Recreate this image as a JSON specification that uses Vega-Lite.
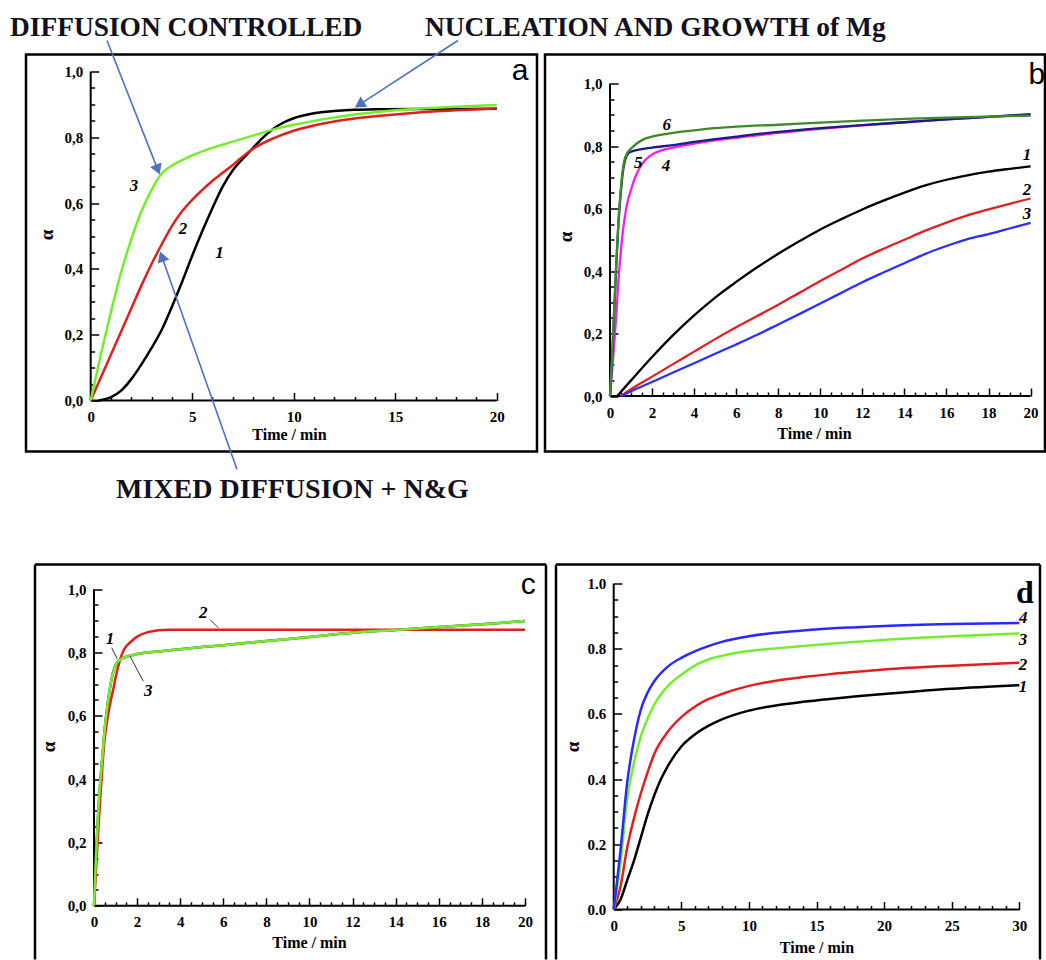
{
  "$schema": "https://vega.github.io/schema/vega-lite/v6.json",
  "autosize": {"type": "pad"},
  "padding": {"left": 8, "top": 11.5, "right": 0, "bottom": 0},
  "background": "white",
  "columns": 2,
  "bounds": "flush",
  "align": "none",
  "spacing": {"row": 113, "column": 8},
  "resolve": {"scale": {"color": "independent"}},
  "datasets": {
    "axes20": [{"t": 0, "a": 0, "t2": 20, "a2": 0}, {"t": 0, "a": 0, "t2": 0, "a2": 1}],
    "axes30": [{"t": 0, "a": 0, "t2": 30, "a2": 0}, {"t": 0, "a": 0, "t2": 0, "a2": 1}],
    "a_lines": [
      {"s": "1", "t": 0.4, "a": 0}, {"s": "1", "t": 1, "a": 0.01}, {"s": "1", "t": 1.5, "a": 0.03}, {"s": "1", "t": 2, "a": 0.065}, {"s": "1", "t": 2.5, "a": 0.11}, {"s": "1", "t": 3, "a": 0.16}, {"s": "1", "t": 3.5, "a": 0.215}, {"s": "1", "t": 4, "a": 0.285}, {"s": "1", "t": 4.5, "a": 0.36}, {"s": "1", "t": 5, "a": 0.44}, {"s": "1", "t": 5.5, "a": 0.515}, {"s": "1", "t": 6, "a": 0.585}, {"s": "1", "t": 6.5, "a": 0.65}, {"s": "1", "t": 7, "a": 0.7}, {"s": "1", "t": 7.5, "a": 0.735}, {"s": "1", "t": 8, "a": 0.768}, {"s": "1", "t": 8.5, "a": 0.8}, {"s": "1", "t": 9, "a": 0.826}, {"s": "1", "t": 9.5, "a": 0.845}, {"s": "1", "t": 10, "a": 0.858}, {"s": "1", "t": 11, "a": 0.873}, {"s": "1", "t": 12, "a": 0.88}, {"s": "1", "t": 13, "a": 0.884}, {"s": "1", "t": 14, "a": 0.885}, {"s": "1", "t": 16, "a": 0.886}, {"s": "1", "t": 18, "a": 0.886}, {"s": "1", "t": 20, "a": 0.887},
      {"s": "2", "t": 0, "a": 0}, {"s": "2", "t": 0.5, "a": 0.07}, {"s": "2", "t": 1, "a": 0.14}, {"s": "2", "t": 1.5, "a": 0.21}, {"s": "2", "t": 2, "a": 0.28}, {"s": "2", "t": 2.5, "a": 0.35}, {"s": "2", "t": 3, "a": 0.415}, {"s": "2", "t": 3.5, "a": 0.475}, {"s": "2", "t": 4, "a": 0.53}, {"s": "2", "t": 4.5, "a": 0.575}, {"s": "2", "t": 5, "a": 0.61}, {"s": "2", "t": 5.5, "a": 0.64}, {"s": "2", "t": 6, "a": 0.668}, {"s": "2", "t": 6.5, "a": 0.692}, {"s": "2", "t": 7, "a": 0.716}, {"s": "2", "t": 7.5, "a": 0.742}, {"s": "2", "t": 8, "a": 0.765}, {"s": "2", "t": 9, "a": 0.797}, {"s": "2", "t": 10, "a": 0.82}, {"s": "2", "t": 11, "a": 0.836}, {"s": "2", "t": 12, "a": 0.848}, {"s": "2", "t": 13, "a": 0.857}, {"s": "2", "t": 14, "a": 0.864}, {"s": "2", "t": 16, "a": 0.875}, {"s": "2", "t": 18, "a": 0.882}, {"s": "2", "t": 20, "a": 0.888},
      {"s": "3", "t": 0, "a": 0}, {"s": "3", "t": 0.5, "a": 0.14}, {"s": "3", "t": 1, "a": 0.27}, {"s": "3", "t": 1.5, "a": 0.39}, {"s": "3", "t": 2, "a": 0.49}, {"s": "3", "t": 2.5, "a": 0.575}, {"s": "3", "t": 3, "a": 0.64}, {"s": "3", "t": 3.5, "a": 0.69}, {"s": "3", "t": 4, "a": 0.714}, {"s": "3", "t": 4.5, "a": 0.73}, {"s": "3", "t": 5, "a": 0.745}, {"s": "3", "t": 6, "a": 0.768}, {"s": "3", "t": 7, "a": 0.787}, {"s": "3", "t": 8, "a": 0.805}, {"s": "3", "t": 9, "a": 0.824}, {"s": "3", "t": 10, "a": 0.838}, {"s": "3", "t": 11, "a": 0.85}, {"s": "3", "t": 12, "a": 0.86}, {"s": "3", "t": 13, "a": 0.869}, {"s": "3", "t": 14, "a": 0.876}, {"s": "3", "t": 15, "a": 0.882}, {"s": "3", "t": 16, "a": 0.887}, {"s": "3", "t": 18, "a": 0.893}, {"s": "3", "t": 20, "a": 0.898}
    ],
    "a_arrows": [
      {"t": 0.803, "a": 1.0942, "t2": 3.305, "a2": 0.7018},
      {"t": 18.089, "a": 1.0942, "t2": 13.236, "a2": 0.8994},
      {"t": 7.207, "a": -0.2097, "t2": 3.502, "a2": 0.4377}
    ],
    "a_nums": [{"t": 2.13, "a": 0.653, "label": "3"}, {"t": 4.547, "a": 0.52, "label": "2"}, {"t": 6.35, "a": 0.447, "label": "1"}],
    "a_letter": [{"t": 21.148, "a": 1.003, "label": "a"}],
    "headers": [
      {"t": -3.975, "a": 1.1763, "label": "DIFFUSION CONTROLLED"},
      {"t": 16.468, "a": 1.1763, "label": "NUCLEATION AND GROWTH of Mg"}
    ],
    "mixed": [
      {"t": 1.25, "a": -0.2295, "label": "MIXED DIFFUSION + N&G"}
    ],
    "b_lines": [
      {"s": "1", "t": 0.35, "a": 0}, {"s": "1", "t": 1, "a": 0.05}, {"s": "1", "t": 2, "a": 0.125}, {"s": "1", "t": 3, "a": 0.195}, {"s": "1", "t": 4, "a": 0.258}, {"s": "1", "t": 5, "a": 0.315}, {"s": "1", "t": 6, "a": 0.365}, {"s": "1", "t": 7, "a": 0.412}, {"s": "1", "t": 8, "a": 0.455}, {"s": "1", "t": 9, "a": 0.495}, {"s": "1", "t": 10, "a": 0.533}, {"s": "1", "t": 11, "a": 0.566}, {"s": "1", "t": 12, "a": 0.597}, {"s": "1", "t": 13, "a": 0.625}, {"s": "1", "t": 14, "a": 0.651}, {"s": "1", "t": 15, "a": 0.674}, {"s": "1", "t": 16, "a": 0.692}, {"s": "1", "t": 17, "a": 0.706}, {"s": "1", "t": 18, "a": 0.718}, {"s": "1", "t": 19, "a": 0.727}, {"s": "1", "t": 20, "a": 0.735},
      {"s": "2", "t": 0.5, "a": 0}, {"s": "2", "t": 1, "a": 0.022}, {"s": "2", "t": 2, "a": 0.062}, {"s": "2", "t": 3, "a": 0.102}, {"s": "2", "t": 4, "a": 0.142}, {"s": "2", "t": 5, "a": 0.182}, {"s": "2", "t": 6, "a": 0.22}, {"s": "2", "t": 7, "a": 0.256}, {"s": "2", "t": 8, "a": 0.292}, {"s": "2", "t": 9, "a": 0.33}, {"s": "2", "t": 10, "a": 0.368}, {"s": "2", "t": 11, "a": 0.404}, {"s": "2", "t": 12, "a": 0.44}, {"s": "2", "t": 13, "a": 0.471}, {"s": "2", "t": 14, "a": 0.5}, {"s": "2", "t": 15, "a": 0.529}, {"s": "2", "t": 16, "a": 0.555}, {"s": "2", "t": 17, "a": 0.578}, {"s": "2", "t": 18, "a": 0.597}, {"s": "2", "t": 19, "a": 0.615}, {"s": "2", "t": 20, "a": 0.632},
      {"s": "3", "t": 0.55, "a": 0}, {"s": "3", "t": 1, "a": 0.015}, {"s": "3", "t": 2, "a": 0.045}, {"s": "3", "t": 3, "a": 0.075}, {"s": "3", "t": 4, "a": 0.105}, {"s": "3", "t": 5, "a": 0.135}, {"s": "3", "t": 6, "a": 0.165}, {"s": "3", "t": 7, "a": 0.196}, {"s": "3", "t": 8, "a": 0.229}, {"s": "3", "t": 9, "a": 0.262}, {"s": "3", "t": 10, "a": 0.296}, {"s": "3", "t": 11, "a": 0.33}, {"s": "3", "t": 12, "a": 0.364}, {"s": "3", "t": 13, "a": 0.395}, {"s": "3", "t": 14, "a": 0.425}, {"s": "3", "t": 15, "a": 0.455}, {"s": "3", "t": 16, "a": 0.48}, {"s": "3", "t": 17, "a": 0.502}, {"s": "3", "t": 18, "a": 0.518}, {"s": "3", "t": 19, "a": 0.536}, {"s": "3", "t": 20, "a": 0.554},
      {"s": "4", "t": 0, "a": 0}, {"s": "4", "t": 0.1, "a": 0.08}, {"s": "4", "t": 0.2, "a": 0.17}, {"s": "4", "t": 0.3, "a": 0.26}, {"s": "4", "t": 0.4, "a": 0.37}, {"s": "4", "t": 0.5, "a": 0.45}, {"s": "4", "t": 0.6, "a": 0.52}, {"s": "4", "t": 0.7, "a": 0.57}, {"s": "4", "t": 0.8, "a": 0.61}, {"s": "4", "t": 1, "a": 0.66}, {"s": "4", "t": 1.2, "a": 0.7}, {"s": "4", "t": 1.5, "a": 0.74}, {"s": "4", "t": 2, "a": 0.773}, {"s": "4", "t": 2.5, "a": 0.787}, {"s": "4", "t": 3, "a": 0.795}, {"s": "4", "t": 4, "a": 0.808}, {"s": "4", "t": 5, "a": 0.818}, {"s": "4", "t": 6, "a": 0.826}, {"s": "4", "t": 8, "a": 0.842}, {"s": "4", "t": 10, "a": 0.855}, {"s": "4", "t": 12, "a": 0.866}, {"s": "4", "t": 14, "a": 0.876}, {"s": "4", "t": 16, "a": 0.885}, {"s": "4", "t": 18, "a": 0.893}, {"s": "4", "t": 20, "a": 0.9},
      {"s": "5", "t": 0, "a": 0}, {"s": "5", "t": 0.1, "a": 0.12}, {"s": "5", "t": 0.2, "a": 0.27}, {"s": "5", "t": 0.3, "a": 0.42}, {"s": "5", "t": 0.4, "a": 0.55}, {"s": "5", "t": 0.5, "a": 0.64}, {"s": "5", "t": 0.6, "a": 0.71}, {"s": "5", "t": 0.7, "a": 0.75}, {"s": "5", "t": 0.8, "a": 0.77}, {"s": "5", "t": 1, "a": 0.782}, {"s": "5", "t": 1.5, "a": 0.79}, {"s": "5", "t": 2, "a": 0.795}, {"s": "5", "t": 3, "a": 0.803}, {"s": "5", "t": 4, "a": 0.813}, {"s": "5", "t": 5, "a": 0.822}, {"s": "5", "t": 6, "a": 0.83}, {"s": "5", "t": 8, "a": 0.845}, {"s": "5", "t": 10, "a": 0.857}, {"s": "5", "t": 12, "a": 0.867}, {"s": "5", "t": 14, "a": 0.876}, {"s": "5", "t": 16, "a": 0.885}, {"s": "5", "t": 18, "a": 0.893}, {"s": "5", "t": 20, "a": 0.902},
      {"s": "6", "t": 0, "a": 0}, {"s": "6", "t": 0.1, "a": 0.13}, {"s": "6", "t": 0.2, "a": 0.28}, {"s": "6", "t": 0.3, "a": 0.43}, {"s": "6", "t": 0.4, "a": 0.56}, {"s": "6", "t": 0.5, "a": 0.65}, {"s": "6", "t": 0.6, "a": 0.72}, {"s": "6", "t": 0.7, "a": 0.758}, {"s": "6", "t": 0.8, "a": 0.775}, {"s": "6", "t": 1, "a": 0.792}, {"s": "6", "t": 1.5, "a": 0.818}, {"s": "6", "t": 2, "a": 0.83}, {"s": "6", "t": 3, "a": 0.842}, {"s": "6", "t": 4, "a": 0.85}, {"s": "6", "t": 5, "a": 0.857}, {"s": "6", "t": 6, "a": 0.862}, {"s": "6", "t": 8, "a": 0.868}, {"s": "6", "t": 10, "a": 0.875}, {"s": "6", "t": 12, "a": 0.881}, {"s": "6", "t": 14, "a": 0.887}, {"s": "6", "t": 16, "a": 0.891}, {"s": "6", "t": 18, "a": 0.894}, {"s": "6", "t": 20, "a": 0.897}
    ],
    "b_nums": [{"t": 2.696, "a": 0.8688, "label": "6"}, {"t": 1.346, "a": 0.7462, "label": "5"}, {"t": 2.663, "a": 0.7354, "label": "4"}, {"t": 19.829, "a": 0.7728, "label": "1"}, {"t": 19.829, "a": 0.6608, "label": "2"}, {"t": 19.829, "a": 0.584, "label": "3"}],
    "b_letter": [{"t": 20.3, "a": 1.027, "label": "b"}],
    "c_lines": [
      {"s": "1", "t": 0, "a": 0}, {"s": "1", "t": 0.1, "a": 0.17}, {"s": "1", "t": 0.2, "a": 0.3}, {"s": "1", "t": 0.3, "a": 0.4}, {"s": "1", "t": 0.4, "a": 0.48}, {"s": "1", "t": 0.5, "a": 0.56}, {"s": "1", "t": 0.6, "a": 0.62}, {"s": "1", "t": 0.7, "a": 0.67}, {"s": "1", "t": 0.8, "a": 0.71}, {"s": "1", "t": 0.9, "a": 0.74}, {"s": "1", "t": 1, "a": 0.76}, {"s": "1", "t": 1.2, "a": 0.776}, {"s": "1", "t": 1.4, "a": 0.784}, {"s": "1", "t": 1.7, "a": 0.79}, {"s": "1", "t": 2, "a": 0.795}, {"s": "1", "t": 3, "a": 0.803}, {"s": "1", "t": 4, "a": 0.81}, {"s": "1", "t": 5, "a": 0.817}, {"s": "1", "t": 6, "a": 0.823}, {"s": "1", "t": 8, "a": 0.836}, {"s": "1", "t": 10, "a": 0.849}, {"s": "1", "t": 12, "a": 0.862}, {"s": "1", "t": 14, "a": 0.871}, {"s": "1", "t": 16, "a": 0.88}, {"s": "1", "t": 18, "a": 0.889}, {"s": "1", "t": 20, "a": 0.899},
      {"s": "2", "t": 0, "a": 0}, {"s": "2", "t": 0.1, "a": 0.12}, {"s": "2", "t": 0.2, "a": 0.24}, {"s": "2", "t": 0.3, "a": 0.35}, {"s": "2", "t": 0.4, "a": 0.45}, {"s": "2", "t": 0.5, "a": 0.53}, {"s": "2", "t": 0.6, "a": 0.58}, {"s": "2", "t": 0.7, "a": 0.62}, {"s": "2", "t": 0.8, "a": 0.655}, {"s": "2", "t": 0.9, "a": 0.685}, {"s": "2", "t": 1, "a": 0.72}, {"s": "2", "t": 1.2, "a": 0.775}, {"s": "2", "t": 1.4, "a": 0.81}, {"s": "2", "t": 1.7, "a": 0.833}, {"s": "2", "t": 2, "a": 0.85}, {"s": "2", "t": 2.5, "a": 0.864}, {"s": "2", "t": 3, "a": 0.87}, {"s": "2", "t": 3.5, "a": 0.872}, {"s": "2", "t": 5, "a": 0.872}, {"s": "2", "t": 10, "a": 0.872}, {"s": "2", "t": 15, "a": 0.872}, {"s": "2", "t": 20, "a": 0.872},
      {"s": "3", "t": 0, "a": 0}, {"s": "3", "t": 0.1, "a": 0.17}, {"s": "3", "t": 0.2, "a": 0.3}, {"s": "3", "t": 0.3, "a": 0.4}, {"s": "3", "t": 0.4, "a": 0.48}, {"s": "3", "t": 0.5, "a": 0.56}, {"s": "3", "t": 0.6, "a": 0.62}, {"s": "3", "t": 0.7, "a": 0.67}, {"s": "3", "t": 0.8, "a": 0.71}, {"s": "3", "t": 0.9, "a": 0.74}, {"s": "3", "t": 1, "a": 0.76}, {"s": "3", "t": 1.2, "a": 0.776}, {"s": "3", "t": 1.4, "a": 0.784}, {"s": "3", "t": 1.7, "a": 0.79}, {"s": "3", "t": 2, "a": 0.795}, {"s": "3", "t": 3, "a": 0.803}, {"s": "3", "t": 4, "a": 0.81}, {"s": "3", "t": 5, "a": 0.817}, {"s": "3", "t": 6, "a": 0.823}, {"s": "3", "t": 8, "a": 0.836}, {"s": "3", "t": 10, "a": 0.849}, {"s": "3", "t": 12, "a": 0.862}, {"s": "3", "t": 14, "a": 0.871}, {"s": "3", "t": 16, "a": 0.88}, {"s": "3", "t": 18, "a": 0.889}, {"s": "3", "t": 20, "a": 0.899}
    ],
    "c_leaders": [
      {"t": 0.821, "a": 0.8147, "t2": 1.081, "a2": 0.7799},
      {"t": 2.288, "a": 0.7092, "t2": 1.671, "a2": 0.7881},
      {"t": 5.383, "a": 0.904, "t2": 5.768, "a2": 0.8778}
    ],
    "c_frame": [
      {"t": -2.738, "a": 1.0777, "t2": 20.974, "a2": 1.0777},
      {"t": -2.738, "a": -0.1696, "t2": -2.738, "a2": 1.0777},
      {"t": 20.974, "a": -0.1696, "t2": 20.974, "a2": 1.0777}
    ],
    "c_nums": [{"t": 0.742, "a": 0.8409, "label": "1"}, {"t": 2.52, "a": 0.6776, "label": "3"}, {"t": 5.072, "a": 0.9252, "label": "2"}],
    "c_letter": [{"t": 20.153, "a": 1.0145, "label": "c"}],
    "d_lines": [
      {"s": "1", "t": 0, "a": 0}, {"s": "1", "t": 0.5, "a": 0.03}, {"s": "1", "t": 1, "a": 0.09}, {"s": "1", "t": 1.5, "a": 0.15}, {"s": "1", "t": 2, "a": 0.22}, {"s": "1", "t": 2.5, "a": 0.29}, {"s": "1", "t": 3, "a": 0.35}, {"s": "1", "t": 3.5, "a": 0.4}, {"s": "1", "t": 4, "a": 0.44}, {"s": "1", "t": 5, "a": 0.5}, {"s": "1", "t": 6, "a": 0.537}, {"s": "1", "t": 7, "a": 0.563}, {"s": "1", "t": 8, "a": 0.583}, {"s": "1", "t": 10, "a": 0.61}, {"s": "1", "t": 12, "a": 0.626}, {"s": "1", "t": 14, "a": 0.637}, {"s": "1", "t": 16, "a": 0.646}, {"s": "1", "t": 18, "a": 0.654}, {"s": "1", "t": 20, "a": 0.661}, {"s": "1", "t": 25, "a": 0.677}, {"s": "1", "t": 30, "a": 0.688},
      {"s": "2", "t": 0, "a": 0}, {"s": "2", "t": 0.5, "a": 0.07}, {"s": "2", "t": 1, "a": 0.19}, {"s": "2", "t": 1.5, "a": 0.28}, {"s": "2", "t": 2, "a": 0.355}, {"s": "2", "t": 2.5, "a": 0.42}, {"s": "2", "t": 3, "a": 0.477}, {"s": "2", "t": 4, "a": 0.545}, {"s": "2", "t": 5, "a": 0.59}, {"s": "2", "t": 6, "a": 0.622}, {"s": "2", "t": 7, "a": 0.645}, {"s": "2", "t": 8, "a": 0.661}, {"s": "2", "t": 10, "a": 0.686}, {"s": "2", "t": 12, "a": 0.702}, {"s": "2", "t": 14, "a": 0.713}, {"s": "2", "t": 16, "a": 0.722}, {"s": "2", "t": 18, "a": 0.729}, {"s": "2", "t": 20, "a": 0.736}, {"s": "2", "t": 25, "a": 0.748}, {"s": "2", "t": 30, "a": 0.757},
      {"s": "3", "t": 0, "a": 0}, {"s": "3", "t": 0.5, "a": 0.14}, {"s": "3", "t": 1, "a": 0.34}, {"s": "3", "t": 1.5, "a": 0.45}, {"s": "3", "t": 2, "a": 0.53}, {"s": "3", "t": 2.5, "a": 0.585}, {"s": "3", "t": 3, "a": 0.628}, {"s": "3", "t": 4, "a": 0.685}, {"s": "3", "t": 5, "a": 0.72}, {"s": "3", "t": 6, "a": 0.748}, {"s": "3", "t": 7, "a": 0.767}, {"s": "3", "t": 8, "a": 0.778}, {"s": "3", "t": 10, "a": 0.793}, {"s": "3", "t": 12, "a": 0.801}, {"s": "3", "t": 14, "a": 0.808}, {"s": "3", "t": 16, "a": 0.815}, {"s": "3", "t": 18, "a": 0.821}, {"s": "3", "t": 20, "a": 0.827}, {"s": "3", "t": 25, "a": 0.838}, {"s": "3", "t": 30, "a": 0.847},
      {"s": "4", "t": 0, "a": 0}, {"s": "4", "t": 0.5, "a": 0.18}, {"s": "4", "t": 1, "a": 0.39}, {"s": "4", "t": 1.5, "a": 0.52}, {"s": "4", "t": 2, "a": 0.612}, {"s": "4", "t": 2.5, "a": 0.665}, {"s": "4", "t": 3, "a": 0.7}, {"s": "4", "t": 4, "a": 0.745}, {"s": "4", "t": 5, "a": 0.772}, {"s": "4", "t": 6, "a": 0.792}, {"s": "4", "t": 7, "a": 0.808}, {"s": "4", "t": 8, "a": 0.821}, {"s": "4", "t": 10, "a": 0.838}, {"s": "4", "t": 12, "a": 0.849}, {"s": "4", "t": 14, "a": 0.856}, {"s": "4", "t": 16, "a": 0.862}, {"s": "4", "t": 18, "a": 0.866}, {"s": "4", "t": 20, "a": 0.87}, {"s": "4", "t": 25, "a": 0.876}, {"s": "4", "t": 30, "a": 0.879}
    ],
    "d_frame": [
      {"t": -4.268, "a": 1.0583, "t2": 31.53, "a2": 1.0583},
      {"t": -4.268, "a": -0.1534, "t2": -4.268, "a2": 1.0583},
      {"t": 31.53, "a": -0.1534, "t2": 31.53, "a2": 1.0583}
    ],
    "d_nums": [{"t": 30.3, "a": 0.8948, "label": "4"}, {"t": 30.27, "a": 0.8252, "label": "3"}, {"t": 30.27, "a": 0.7485, "label": "2"}, {"t": 30.27, "a": 0.681, "label": "1"}],
    "d_letter": [{"t": 30.42, "a": 0.9724, "label": "d"}]
  },
  "concat": [
    {
      "width": 511, "height": 397,
      "encoding": {
        "x": {"field": "t", "type": "quantitative", "scale": {"domain": [-3.187, 21.985], "nice": false, "zero": false},
          "axis": {"orient": "bottom", "offset": -51, "values": [0,1,2,3,4,5,6,7,8,9,10,11,12,13,14,15,16,17,18,19,20],
            "labelExpr": "datum.value % 5 === 0 ? format(datum.value, 'd') : ''",
            "tickSize": {"condition": {"test": "datum.value % 5 === 0", "value": -8}, "value": -4},
            "labelPadding": 17, "title": "Time / min", "titleX": 263, "titleY": 34, "titleAlign": "center", "titleBaseline": "middle"}},
        "y": {"field": "a", "type": "quantitative", "scale": {"domain": [-0.155, 1.0517], "nice": false, "zero": false},
          "axis": {"orient": "left", "offset": -64.7, "values": [0,0.05,0.1,0.15,0.2,0.25,0.3,0.35,0.4,0.45,0.5,0.55,0.6,0.65,0.7,0.75,0.8,0.85,0.9,0.95,1],
            "labelExpr": "abs(datum.value * 5 - round(datum.value * 5)) < 0.001 ? replace(format(datum.value, '.1f'), '.', ',') : ''",
            "tickSize": {"condition": {"test": "abs(datum.value * 5 - round(datum.value * 5)) < 0.001", "value": -8}, "value": -4},
            "labelPadding": 16, "title": "α", "titleX": -44, "titleY": 180, "titleAlign": "center", "titleBaseline": "middle", "titleFontSize": 19}}
      },
      "layer": [
        {"data": {"name": "axes20"}, "mark": {"type": "rule", "color": "black", "strokeWidth": 2}, "encoding": {"x2": {"field": "t2"}, "y2": {"field": "a2"}}},
        {"data": {"name": "a_lines"}, "mark": {"type": "line", "interpolate": "monotone", "strokeWidth": 2.5},
          "encoding": {"color": {"field": "s", "type": "nominal", "scale": {"domain": ["1", "2", "3"], "range": ["#000000", "#e0201e", "#74ee2c"]}, "legend": null}}},
        {"data": {"name": "a_arrows"}, "mark": {"type": "rule", "color": "#5070c0", "strokeWidth": 1.6}, "encoding": {"x2": {"field": "t2"}, "y2": {"field": "a2"}}},
        {"data": {"values": [{"t": 3.305, "a": 0.7018}]}, "mark": {"type": "point", "shape": "triangle-up", "filled": true, "color": "#5070c0", "opacity": 1, "size": 150, "angle": 158.5}},
        {"data": {"values": [{"t": 13.236, "a": 0.8994}]}, "mark": {"type": "point", "shape": "triangle-up", "filled": true, "color": "#5070c0", "opacity": 1, "size": 150, "angle": 237}},
        {"data": {"values": [{"t": 3.502, "a": 0.4377}]}, "mark": {"type": "point", "shape": "triangle-up", "filled": true, "color": "#5070c0", "opacity": 1, "size": 150, "angle": 340.5}},
        {"data": {"name": "a_nums"}, "mark": {"type": "text", "font": "Liberation Serif", "fontStyle": "italic", "fontWeight": "bold", "fontSize": 17, "color": "black", "align": "center", "baseline": "middle"}, "encoding": {"text": {"field": "label"}}},
        {"data": {"name": "a_letter"}, "mark": {"type": "text", "font": "Liberation Sans", "fontSize": 30, "color": "black", "align": "center", "baseline": "middle"}, "encoding": {"text": {"field": "label"}}},
        {"data": {"name": "headers"}, "mark": {"type": "text", "font": "Liberation Serif", "fontWeight": "bold", "fontSize": 27.4, "color": "#111122", "align": "left", "baseline": "top"}, "encoding": {"text": {"field": "label"}}},
        {"data": {"name": "mixed"}, "mark": {"type": "text", "font": "Liberation Serif", "fontWeight": "bold", "fontSize": 28, "color": "#111122", "align": "left", "baseline": "top"}, "encoding": {"text": {"field": "label"}}}
      ]
    },
    {
      "width": 500, "height": 397,
      "encoding": {
        "x": {"field": "t", "type": "quantitative", "scale": {"domain": [-3.091, 20.685], "nice": false, "zero": false},
          "axis": {"orient": "bottom", "offset": -55.5, "values": [0,0.5,1,1.5,2,2.5,3,3.5,4,4.5,5,5.5,6,6.5,7,7.5,8,8.5,9,9.5,10,10.5,11,11.5,12,12.5,13,13.5,14,14.5,15,15.5,16,16.5,17,17.5,18,18.5,19,19.5,20],
            "labelExpr": "datum.value % 2 === 0 ? format(datum.value, 'd') : ''",
            "tickSize": {"condition": {"test": "datum.value % 2 === 0", "value": -8}, "value": -4},
            "labelPadding": 17, "title": "Time / min", "titleX": 269, "titleY": 37, "titleAlign": "center", "titleBaseline": "middle"}},
        "y": {"field": "a", "type": "quantitative", "scale": {"domain": [-0.1776, 1.0928], "nice": false, "zero": false},
          "axis": {"orient": "left", "offset": -65, "values": [0,0.05,0.1,0.15,0.2,0.25,0.3,0.35,0.4,0.45,0.5,0.55,0.6,0.65,0.7,0.75,0.8,0.85,0.9,0.95,1],
            "labelExpr": "abs(datum.value * 5 - round(datum.value * 5)) < 0.001 ? replace(format(datum.value, '.1f'), '.', ',') : ''",
            "tickSize": {"condition": {"test": "abs(datum.value * 5 - round(datum.value * 5)) < 0.001", "value": -8}, "value": -4},
            "labelPadding": 16, "title": "α", "titleX": -45, "titleY": 182, "titleAlign": "center", "titleBaseline": "middle", "titleFontSize": 19}}
      },
      "layer": [
        {"data": {"name": "axes20"}, "mark": {"type": "rule", "color": "black", "strokeWidth": 2}, "encoding": {"x2": {"field": "t2"}, "y2": {"field": "a2"}}},
        {"data": {"name": "b_lines"}, "mark": {"type": "line", "interpolate": "monotone", "strokeWidth": 2.3},
          "encoding": {"color": {"field": "s", "type": "nominal", "scale": {"domain": ["1", "2", "3", "4", "5", "6"], "range": ["#000000", "#e0201e", "#2a30ff", "#f020f0", "#1c1c86", "#3c8a2a"]}, "legend": null}}},
        {"data": {"name": "b_nums"}, "mark": {"type": "text", "font": "Liberation Serif", "fontStyle": "italic", "fontWeight": "bold", "fontSize": 17, "color": "black", "align": "center", "baseline": "middle"}, "encoding": {"text": {"field": "label"}}},
        {"data": {"name": "b_letter"}, "mark": {"type": "text", "font": "Liberation Sans", "fontSize": 30, "color": "black", "align": "center", "baseline": "middle"}, "encoding": {"text": {"field": "label"}}}
      ]
    },
    {
      "width": 511, "height": 395,
      "view": {"stroke": null},
      "encoding": {
        "x": {"field": "t", "type": "quantitative", "scale": {"domain": [-3.1555, 20.557], "nice": false, "zero": false},
          "axis": {"orient": "bottom", "offset": -53.7, "values": [0,0.5,1,1.5,2,2.5,3,3.5,4,4.5,5,5.5,6,6.5,7,7.5,8,8.5,9,9.5,10,10.5,11,11.5,12,12.5,13,13.5,14,14.5,15,15.5,16,16.5,17,17.5,18,18.5,19,19.5,20],
            "labelExpr": "datum.value % 2 === 0 ? format(datum.value, 'd') : ''",
            "tickSize": {"condition": {"test": "datum.value % 2 === 0", "value": -8}, "value": -4},
            "labelPadding": 17, "title": "Time / min", "titleX": 283, "titleY": 37, "titleAlign": "center", "titleBaseline": "middle"}},
        "y": {"field": "a", "type": "quantitative", "scale": {"domain": [-0.1696, 1.0777], "nice": false, "zero": false},
          "axis": {"orient": "left", "offset": -68, "values": [0,0.05,0.1,0.15,0.2,0.25,0.3,0.35,0.4,0.45,0.5,0.55,0.6,0.65,0.7,0.75,0.8,0.85,0.9,0.95,1],
            "labelExpr": "abs(datum.value * 5 - round(datum.value * 5)) < 0.001 ? replace(format(datum.value, '.1f'), '.', ',') : ''",
            "tickSize": {"condition": {"test": "abs(datum.value * 5 - round(datum.value * 5)) < 0.001", "value": -8}, "value": -4},
            "labelPadding": 16, "title": "α", "titleX": -46, "titleY": 182, "titleAlign": "center", "titleBaseline": "middle", "titleFontSize": 19}}
      },
      "layer": [
        {"data": {"name": "c_frame"}, "mark": {"type": "rule", "color": "black", "strokeWidth": 2.5}, "encoding": {"x2": {"field": "t2"}, "y2": {"field": "a2"}}},
        {"data": {"name": "axes20"}, "mark": {"type": "rule", "color": "black", "strokeWidth": 2}, "encoding": {"x2": {"field": "t2"}, "y2": {"field": "a2"}}},
        {"data": {"name": "c_lines"}, "mark": {"type": "line", "interpolate": "monotone", "strokeWidth": 2.5},
          "encoding": {"color": {"field": "s", "type": "nominal", "scale": {"domain": ["1", "2", "3"], "range": ["#222222", "#e0201e", "#74ee2c"]}, "legend": null}}},
        {"data": {"name": "c_leaders"}, "mark": {"type": "rule", "color": "#333333", "strokeWidth": 1}, "encoding": {"x2": {"field": "t2"}, "y2": {"field": "a2"}}},
        {"data": {"name": "c_nums"}, "mark": {"type": "text", "font": "Liberation Serif", "fontStyle": "italic", "fontWeight": "bold", "fontSize": 17, "color": "black", "align": "center", "baseline": "middle"}, "encoding": {"text": {"field": "label"}}},
        {"data": {"name": "c_letter"}, "mark": {"type": "text", "font": "Liberation Sans", "fontSize": 30, "color": "black", "align": "center", "baseline": "middle"}, "encoding": {"text": {"field": "label"}}}
      ]
    },
    {
      "width": 495, "height": 395,
      "view": {"stroke": null},
      "encoding": {
        "x": {"field": "t", "type": "quantitative", "scale": {"domain": [-5.0814, 31.531], "nice": false, "zero": false},
          "axis": {"orient": "bottom", "offset": -50, "values": [0,1,2,3,4,5,6,7,8,9,10,11,12,13,14,15,16,17,18,19,20,21,22,23,24,25,26,27,28,29,30],
            "labelExpr": "datum.value % 5 === 0 ? format(datum.value, 'd') : ''",
            "tickSize": {"condition": {"test": "datum.value % 5 === 0", "value": -8}, "value": -4},
            "labelPadding": 17, "title": "Time / min", "titleX": 271.5, "titleY": 38, "titleAlign": "center", "titleBaseline": "middle"}},
        "y": {"field": "a", "type": "quantitative", "scale": {"domain": [-0.1534, 1.0583], "nice": false, "zero": false},
          "axis": {"orient": "left", "offset": -68.7, "values": [0,0.05,0.1,0.15,0.2,0.25,0.3,0.35,0.4,0.45,0.5,0.55,0.6,0.65,0.7,0.75,0.8,0.85,0.9,0.95,1],
            "labelExpr": "abs(datum.value * 5 - round(datum.value * 5)) < 0.001 ? format(datum.value, '.1f') : ''",
            "tickSize": {"condition": {"test": "abs(datum.value * 5 - round(datum.value * 5)) < 0.001", "value": -8}, "value": -4},
            "labelPadding": 16, "title": "α", "titleX": -41, "titleY": 182, "titleAlign": "center", "titleBaseline": "middle", "titleFontSize": 19}}
      },
      "layer": [
        {"data": {"name": "d_frame"}, "mark": {"type": "rule", "color": "black", "strokeWidth": 2.5}, "encoding": {"x2": {"field": "t2"}, "y2": {"field": "a2"}}},
        {"data": {"name": "axes30"}, "mark": {"type": "rule", "color": "black", "strokeWidth": 2}, "encoding": {"x2": {"field": "t2"}, "y2": {"field": "a2"}}},
        {"data": {"name": "d_lines"}, "mark": {"type": "line", "interpolate": "monotone", "strokeWidth": 2.5},
          "encoding": {"color": {"field": "s", "type": "nominal", "scale": {"domain": ["1", "2", "3", "4"], "range": ["#000000", "#e0201e", "#74ee2c", "#2a2aff"]}, "legend": null}}},
        {"data": {"name": "d_nums"}, "mark": {"type": "text", "font": "Liberation Serif", "fontStyle": "italic", "fontWeight": "bold", "fontSize": 17, "color": "black", "align": "center", "baseline": "middle"}, "encoding": {"text": {"field": "label"}}},
        {"data": {"name": "d_letter"}, "mark": {"type": "text", "font": "Liberation Serif", "fontWeight": "bold", "fontSize": 32, "color": "black", "align": "center", "baseline": "middle"}, "encoding": {"text": {"field": "label"}}}
      ]
    }
  ],
  "config": {
    "view": {"stroke": "black", "strokeWidth": 2.5},
    "axis": {"domain": false, "grid": false, "tickColor": "black", "tickWidth": 1.5, "labelFont": "Liberation Serif", "labelFontWeight": "bold", "labelFontSize": 15, "labelColor": "black", "titleFont": "Liberation Serif", "titleFontWeight": "bold", "titleFontSize": 16, "titleColor": "black", "labelOverlap": false, "labelFlush": false}
  }
}
